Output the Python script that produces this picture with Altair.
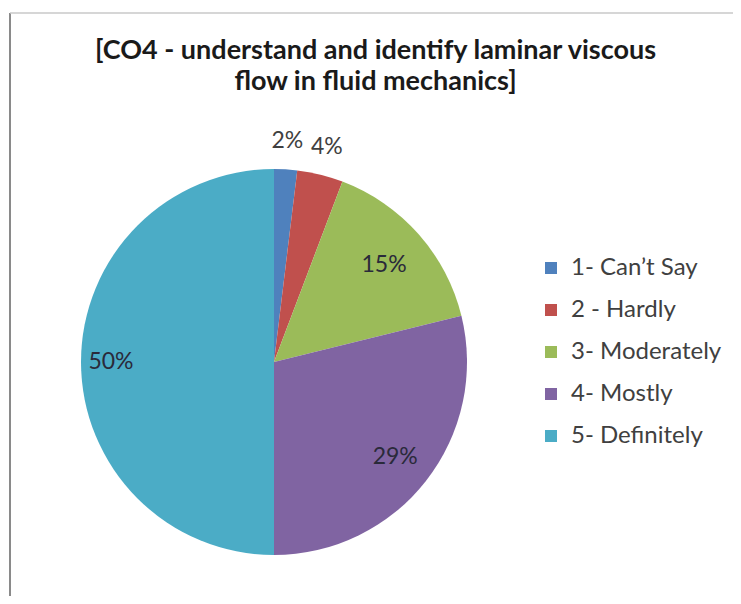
import altair as alt
import pandas as pd

categories = ["1- Can\u2019t Say", "2 - Hardly", "3- Moderately", "4- Mostly", "5- Definitely"]
counts = [1, 2, 8, 15, 26]
labels = ["2%", "4%", "15%", "29%", "50%"]
colors = ["#4F81BD", "#C0504D", "#9BBB59", "#8064A2", "#4BACC6"]
title_lines = ["[CO4 - understand and identify laminar viscous", "flow in fluid mechanics]"]

df = pd.DataFrame({"category": categories, "count": counts, "label": labels, "idx": list(range(len(categories)))})

FONT = "Lato"
CX, CY = 266, 354

base = alt.Chart(df).encode(
    theta=alt.Theta("count:Q", stack=True),
    order=alt.Order("idx:Q"),
    x=alt.value(CX),
    y=alt.value(CY),
)

pie = base.mark_arc(radius=193, strokeWidth=0).encode(
    color=alt.Color(
        "category:N",
        sort=categories,
        scale=alt.Scale(domain=categories, range=colors),
        legend=alt.Legend(
            title=None,
            orient="none",
            legendX=531,
            legendY=248,
            symbolType="square",
            symbolSize=144,
            symbolStrokeWidth=0,
            labelFont=FONT,
            labelFontSize=24,
            labelColor="#404040",
            labelOffset=8,
            rowPadding=18,
            padding=0,
        ),
    )
)


def label_layer(test, radius, color):
    return base.mark_text(radius=radius, font=FONT, fontSize=23, color=color).encode(
        text=alt.condition(test, alt.Text("label:N"), alt.value(""))
    )


outside = label_layer("datum.idx < 2", 221, "#404040")
inside_a = label_layer("datum.idx == 2", 147, "#2a2a3a")
inside_b = label_layer("datum.idx == 3", 154, "#2a2a3a")
inside_c = label_layer("datum.idx == 4", 163, "#2a2a3a")

frame_df = pd.DataFrame({"a": [0]})
left_rule = alt.Chart(frame_df).mark_rule(color="#8a8a8a", strokeWidth=2).encode(
    x=alt.value(2), y=alt.value(5), y2=alt.value(588)
)
top_rule = alt.Chart(frame_df).mark_rule(color="#c8c8c8", strokeWidth=1.5).encode(
    x=alt.value(2), x2=alt.value(725), y=alt.value(5)
)

chart = alt.layer(left_rule, top_rule, pie, outside, inside_a, inside_b, inside_c).properties(
    width=725,
    height=588,
    autosize=alt.AutoSizeParams(type="none"),
    padding=0,
    title=alt.TitleParams(
        text=title_lines,
        font=FONT,
        fontSize=27,
        fontWeight="bold",
        color="#1a1a1a",
        anchor="middle",
        frame="group",
        dx=5,
        dy=92,
        lineHeight=31,
    ),
).configure_view(strokeWidth=0)

chart.save("out.html", embed_options={"renderer": "svg", "actions": False})
